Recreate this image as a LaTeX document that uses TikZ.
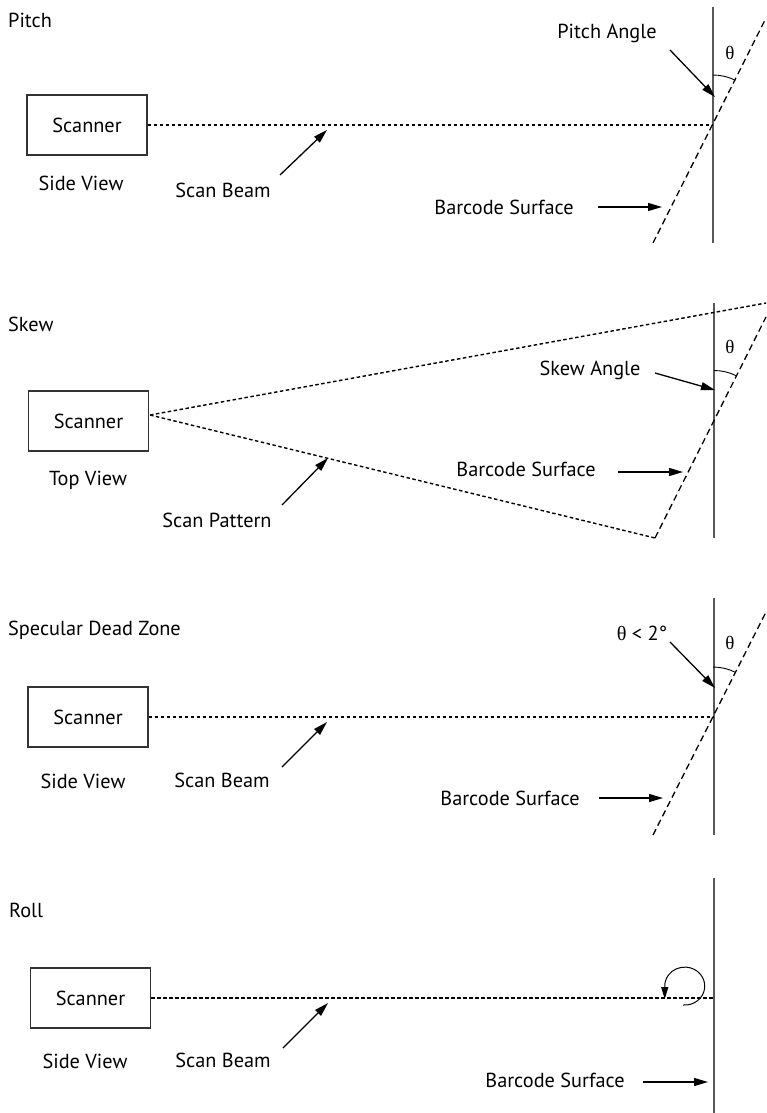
\documentclass[tikz,border=0pt]{standalone}
\usepackage{fontspec}
\setmainfont{PT Sans}
\newfontfamily\grk{Liberation Serif}
\usetikzlibrary{arrows.meta}
\begin{document}
\begin{tikzpicture}[x=1pt,y=1pt,yscale=-1,
  lbl/.style={font=\fontsize{20.3}{24}\selectfont, inner sep=0pt, anchor=base},
  ttl/.style={lbl, anchor=base west},
  theta/.style={font=\grk\fontsize{19}{21}\selectfont, inner sep=0pt},
  scanbox/.style={draw=black!80, line width=1.4pt, minimum width=120pt, minimum height=60pt, inner sep=0pt, font=\fontsize{20.3}{24}\selectfont},
  beam/.style={line width=1.4pt, dash pattern=on 3.5pt off 2.5pt},
  surf/.style={line width=1.3pt, dash pattern=on 6.5pt off 4pt},
  wall/.style={draw=black!65, line width=1.3pt},
  arr/.style={line width=1.3pt, -{Triangle[length=14pt,width=8pt]}},
  anglearc/.style={line width=0.9pt}
]
\useasboundingbox (0,0) rectangle (766,1113);

% ---------- Pitch ----------
\node[ttl] (t1) at (8,28) {Pitch};
\node[scanbox] (s1) at (87,125) {Scanner};
\node[lbl] (v1) at (81,190) {Side View};
\node[lbl] (b1) at (223,197) {Scan Beam};
\coordinate (w1t) at (713,7); \coordinate (w1b) at (713,243);
\draw[wall] (w1t) -- (w1b);
\coordinate (d1a) at (653,243); \coordinate (d1b) at (765,20);
\draw[surf] (d1a) -- (d1b);
\coordinate (c1) at (713,125);
\draw[beam] (s1.east) -- (c1);
\draw[anglearc] (713,75) arc[start angle=-90, end angle=-63.3, radius=50pt];
\node[theta] (th1) at (730,53) {θ};
\node[lbl] (pa) at (607,39) {Pitch Angle};
\coordinate (pa1) at (670,50); \coordinate (pa2) at (715,97);
\draw[arr] (pa1) -- (pa2);
\coordinate (sb1a) at (280,175); \coordinate (sb1b) at (327,130);
\draw[arr] (sb1a) -- (sb1b);
\node[lbl] (bs1) at (504,214) {Barcode Surface};
\coordinate (bs1a) at (598,207); \coordinate (bs1b) at (662,207);
\draw[arr] (bs1a) -- (bs1b);

% ---------- Skew ----------
\node[ttl] (t2) at (8,331) {Skew};
\node[scanbox] (s2) at (88.5,421) {Scanner};
\node[lbl] (v2) at (88,485) {Top View};
\node[lbl] (p2) at (217,527) {Scan Pattern};
\coordinate (w2t) at (714,303); \coordinate (w2b) at (714,538);
\draw[wall] (w2t) -- (w2b);
\coordinate (o2) at (150,415);
\coordinate (u2) at (766,303);
\coordinate (l2) at (655,538);
\coordinate (d2b) at (766,317);
\draw[beam] (o2) -- (u2);
\draw[beam] (o2) -- (l2);
\draw[surf] (l2) -- (d2b);
\draw[anglearc] (714,370.5) arc[start angle=-90, end angle=-63.3, radius=50pt];
\node[theta] (th2) at (730,347) {θ};
\node[lbl] (sa) at (590,375) {Skew Angle};
\coordinate (sa1) at (655,373); \coordinate (sa2) at (715,390);
\draw[arr] (sa1) -- (sa2);
\coordinate (sp2a) at (282,505); \coordinate (sp2b) at (328,458);
\draw[arr] (sp2a) -- (sp2b);
\node[lbl] (bs2) at (526,476) {Barcode Surface};
\coordinate (bs2a) at (618,472); \coordinate (bs2b) at (683,472);
\draw[arr] (bs2a) -- (bs2b);

% ---------- Specular Dead Zone ----------
\node[ttl] (t3) at (8,635) {Specular Dead Zone};
\node[scanbox] (s3) at (88,717) {Scanner};
\node[lbl] (v3) at (83,788) {Side View};
\node[lbl] (b3) at (222,787) {Scan Beam};
\coordinate (w3t) at (714,598); \coordinate (w3b) at (714,835);
\draw[wall] (w3t) -- (w3b);
\coordinate (d3a) at (653,835); \coordinate (d3b) at (766,612);
\draw[surf] (d3a) -- (d3b);
\coordinate (c3) at (713,717);
\draw[beam] (s3.east) -- (c3);
\draw[anglearc] (713,667) arc[start angle=-90, end angle=-63.3, radius=50pt];
\node[theta] (th3) at (730,643) {θ};
\node[lbl] (lt) at (642,640) {{\grk θ} < 2°};
\coordinate (lt1) at (670,642); \coordinate (lt2) at (715,688);
\draw[arr] (lt1) -- (lt2);
\coordinate (sb3a) at (282,767); \coordinate (sb3b) at (327,722);
\draw[arr] (sb3a) -- (sb3b);
\node[lbl] (bs3) at (510,805) {Barcode Surface};
\coordinate (bs3a) at (599,798); \coordinate (bs3b) at (663,798);
\draw[arr] (bs3a) -- (bs3b);

% ---------- Roll ----------
\node[ttl] (t4) at (9,917) {Roll};
\node[scanbox] (s4) at (90.5,998) {Scanner};
\node[lbl] (v4) at (85,1068) {Side View};
\node[lbl] (b4) at (223,1067) {Scan Beam};
\coordinate (w4t) at (714,878); \coordinate (w4b) at (714,1113);
\draw[wall] (w4t) -- (w4b);
\coordinate (c4) at (714,998);
\draw[beam] (s4.east) -- (c4);
\draw[line width=1pt, -{Triangle[length=12pt,width=7pt]}]
  (683,1005) arc[start angle=95, end angle=-180, x radius=20pt, y radius=19pt] -- ++(0,13);
\coordinate (sb4a) at (283,1048); \coordinate (sb4b) at (328,1003);
\draw[arr] (sb4a) -- (sb4b);
\node[lbl] (bs4) at (555,1087) {Barcode Surface};
\coordinate (bs4a) at (643,1082); \coordinate (bs4b) at (708,1082);
\draw[arr] (bs4a) -- (bs4b);
\end{tikzpicture}
\end{document}
